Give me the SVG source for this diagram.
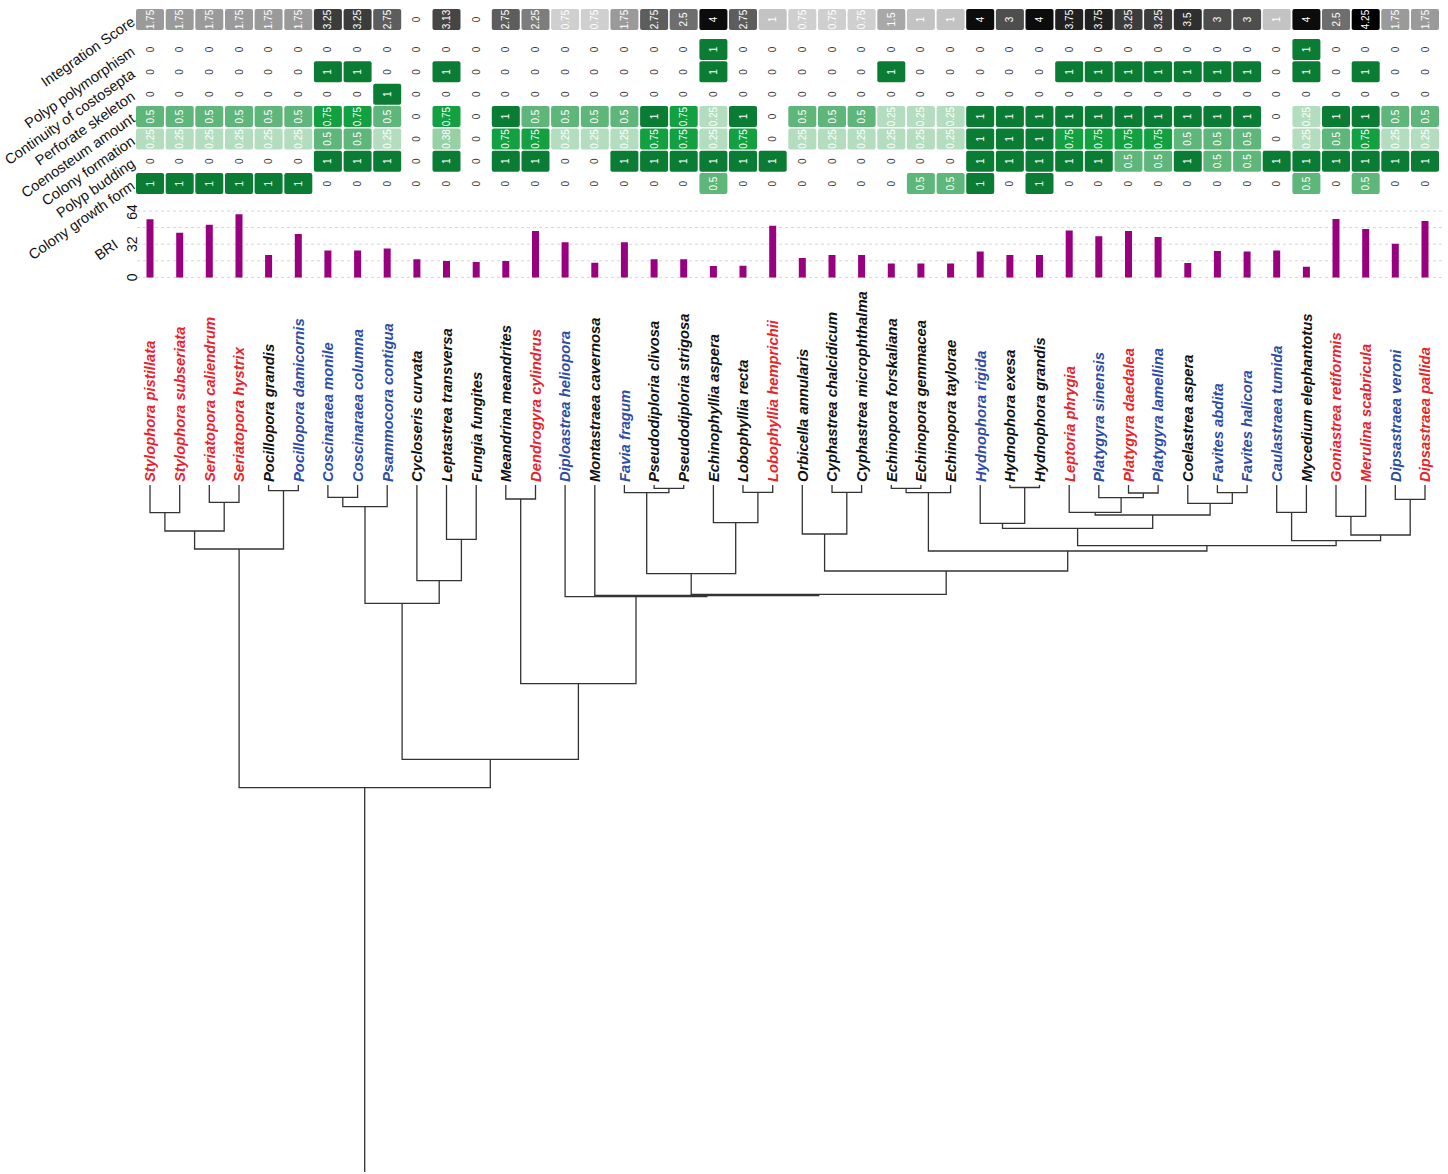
<svg xmlns="http://www.w3.org/2000/svg" xmlns:xlink="http://www.w3.org/1999/xlink" width="1448" height="1174" viewBox="0 0 1448 1174">
<style>
.t text{font-family:"Liberation Sans",Arial,sans-serif;font-size:10px;text-anchor:middle;fill:#3a3a3a}
.t text.w{fill:#fff}
.i075{fill:#cfcfcf}.i1{fill:#c3c3c3}.i15{fill:#a8a8a8}.i175{fill:#9a9a9a}.i225{fill:#7d7d7d}.i25{fill:#6e6e6e}.i275{fill:#5d5d5d}.i3{fill:#4e4e4e}.i313{fill:#454545}.i325{fill:#3c3c3c}.i35{fill:#2f2f2f}.i375{fill:#202020}.i4{fill:#0c0c0c}.i425{fill:#000}
.g1{fill:#0a7c34}.g75{fill:#12a040}.g5{fill:#5fb67a}.g38{fill:#98d0a6}.g25{fill:#b4ddbf}
.lab{font-family:"Liberation Sans",Arial,sans-serif;font-size:14.8px;font-weight:bold;font-style:italic}
.r{fill:#e8232b}.b{fill:#2c4ca5}.k{fill:#111}
.rl{font-family:"Liberation Sans",Arial,sans-serif;font-size:14.5px;text-anchor:end;fill:#111}
</style>
<defs>
<rect id="c" x="-14" y="-10.5" width="28" height="21" rx="2"/>
</defs>
<rect width="1448" height="1174" fill="#fff"/>

<g id="row-labels" class="rl">
<text transform="translate(136 24) rotate(-35)">Integration Score</text>
<text transform="translate(136 54) rotate(-35)">Polyp polymorphism</text>
<text transform="translate(136 76.4) rotate(-35)">Continuity of costosepta</text>
<text transform="translate(136 98.7) rotate(-35)">Perforate skeleton</text>
<text transform="translate(136 121) rotate(-35)">Coenosteum amount</text>
<text transform="translate(136 143.4) rotate(-35)">Colony formation</text>
<text transform="translate(136 165.8) rotate(-35)">Polyp budding</text>
<text transform="translate(136 188.1) rotate(-35)">Colony growth form</text>
<text transform="translate(119 247) rotate(-35)">BRI</text>
</g>

<g id="heatmap-cells">
<g id="cells-integration">
<use href="#c" x="150" y="19.5" class="i175"/><use href="#c" x="179.7" y="19.5" class="i175"/><use href="#c" x="209.3" y="19.5" class="i175"/><use href="#c" x="239" y="19.5" class="i175"/><use href="#c" x="268.6" y="19.5" class="i175"/><use href="#c" x="298.3" y="19.5" class="i175"/><use href="#c" x="327.9" y="19.5" class="i325"/><use href="#c" x="357.6" y="19.5" class="i325"/><use href="#c" x="387.2" y="19.5" class="i275"/><use href="#c" x="446.5" y="19.5" class="i313"/><use href="#c" x="505.8" y="19.5" class="i275"/><use href="#c" x="535.5" y="19.5" class="i225"/><use href="#c" x="565.1" y="19.5" class="i075"/><use href="#c" x="594.8" y="19.5" class="i075"/><use href="#c" x="624.4" y="19.5" class="i175"/><use href="#c" x="654.1" y="19.5" class="i275"/><use href="#c" x="683.7" y="19.5" class="i25"/><use href="#c" x="713.4" y="19.5" class="i4"/><use href="#c" x="743" y="19.5" class="i275"/><use href="#c" x="772.7" y="19.5" class="i1"/><use href="#c" x="802.3" y="19.5" class="i075"/><use href="#c" x="832" y="19.5" class="i075"/><use href="#c" x="861.6" y="19.5" class="i075"/><use href="#c" x="891.3" y="19.5" class="i15"/><use href="#c" x="920.9" y="19.5" class="i1"/><use href="#c" x="950.6" y="19.5" class="i1"/><use href="#c" x="980.2" y="19.5" class="i4"/><use href="#c" x="1009.9" y="19.5" class="i3"/><use href="#c" x="1039.5" y="19.5" class="i4"/><use href="#c" x="1069.2" y="19.5" class="i375"/><use href="#c" x="1098.8" y="19.5" class="i375"/><use href="#c" x="1128.5" y="19.5" class="i325"/><use href="#c" x="1158.1" y="19.5" class="i325"/><use href="#c" x="1187.8" y="19.5" class="i35"/><use href="#c" x="1217.4" y="19.5" class="i3"/><use href="#c" x="1247.1" y="19.5" class="i3"/><use href="#c" x="1276.7" y="19.5" class="i1"/><use href="#c" x="1306.4" y="19.5" class="i4"/><use href="#c" x="1336" y="19.5" class="i25"/><use href="#c" x="1365.7" y="19.5" class="i425"/><use href="#c" x="1395.3" y="19.5" class="i175"/><use href="#c" x="1425" y="19.5" class="i175"/>
</g>
<g id="cells-polymorphism">
<use href="#c" x="713.4" y="49.5" class="g1"/><use href="#c" x="1306.4" y="49.5" class="g1"/>
</g>
<g id="cells-costosepta">
<use href="#c" x="327.9" y="71.85" class="g1"/><use href="#c" x="357.6" y="71.85" class="g1"/><use href="#c" x="446.5" y="71.85" class="g1"/><use href="#c" x="713.4" y="71.85" class="g1"/><use href="#c" x="891.3" y="71.85" class="g1"/><use href="#c" x="1069.2" y="71.85" class="g1"/><use href="#c" x="1098.8" y="71.85" class="g1"/><use href="#c" x="1128.5" y="71.85" class="g1"/><use href="#c" x="1158.1" y="71.85" class="g1"/><use href="#c" x="1187.8" y="71.85" class="g1"/><use href="#c" x="1217.4" y="71.85" class="g1"/><use href="#c" x="1247.1" y="71.85" class="g1"/><use href="#c" x="1306.4" y="71.85" class="g1"/><use href="#c" x="1365.7" y="71.85" class="g1"/>
</g>
<g id="cells-perforate">
<use href="#c" x="387.2" y="94.2" class="g1"/>
</g>
<g id="cells-coenosteum">
<use href="#c" x="150" y="116.55" class="g5"/><use href="#c" x="179.7" y="116.55" class="g5"/><use href="#c" x="209.3" y="116.55" class="g5"/><use href="#c" x="239" y="116.55" class="g5"/><use href="#c" x="268.6" y="116.55" class="g5"/><use href="#c" x="298.3" y="116.55" class="g5"/><use href="#c" x="327.9" y="116.55" class="g75"/><use href="#c" x="357.6" y="116.55" class="g75"/><use href="#c" x="387.2" y="116.55" class="g5"/><use href="#c" x="446.5" y="116.55" class="g75"/><use href="#c" x="505.8" y="116.55" class="g1"/><use href="#c" x="535.5" y="116.55" class="g5"/><use href="#c" x="565.1" y="116.55" class="g5"/><use href="#c" x="594.8" y="116.55" class="g5"/><use href="#c" x="624.4" y="116.55" class="g5"/><use href="#c" x="654.1" y="116.55" class="g1"/><use href="#c" x="683.7" y="116.55" class="g75"/><use href="#c" x="713.4" y="116.55" class="g25"/><use href="#c" x="743" y="116.55" class="g1"/><use href="#c" x="802.3" y="116.55" class="g5"/><use href="#c" x="832" y="116.55" class="g5"/><use href="#c" x="861.6" y="116.55" class="g5"/><use href="#c" x="891.3" y="116.55" class="g25"/><use href="#c" x="920.9" y="116.55" class="g25"/><use href="#c" x="950.6" y="116.55" class="g25"/><use href="#c" x="980.2" y="116.55" class="g1"/><use href="#c" x="1009.9" y="116.55" class="g1"/><use href="#c" x="1039.5" y="116.55" class="g1"/><use href="#c" x="1069.2" y="116.55" class="g1"/><use href="#c" x="1098.8" y="116.55" class="g1"/><use href="#c" x="1128.5" y="116.55" class="g1"/><use href="#c" x="1158.1" y="116.55" class="g1"/><use href="#c" x="1187.8" y="116.55" class="g1"/><use href="#c" x="1217.4" y="116.55" class="g1"/><use href="#c" x="1247.1" y="116.55" class="g1"/><use href="#c" x="1306.4" y="116.55" class="g25"/><use href="#c" x="1336" y="116.55" class="g1"/><use href="#c" x="1365.7" y="116.55" class="g1"/><use href="#c" x="1395.3" y="116.55" class="g5"/><use href="#c" x="1425" y="116.55" class="g5"/>
</g>
<g id="cells-colony-formation">
<use href="#c" x="150" y="138.9" class="g25"/><use href="#c" x="179.7" y="138.9" class="g25"/><use href="#c" x="209.3" y="138.9" class="g25"/><use href="#c" x="239" y="138.9" class="g25"/><use href="#c" x="268.6" y="138.9" class="g25"/><use href="#c" x="298.3" y="138.9" class="g25"/><use href="#c" x="327.9" y="138.9" class="g5"/><use href="#c" x="357.6" y="138.9" class="g5"/><use href="#c" x="387.2" y="138.9" class="g25"/><use href="#c" x="446.5" y="138.9" class="g38"/><use href="#c" x="505.8" y="138.9" class="g75"/><use href="#c" x="535.5" y="138.9" class="g75"/><use href="#c" x="565.1" y="138.9" class="g25"/><use href="#c" x="594.8" y="138.9" class="g25"/><use href="#c" x="624.4" y="138.9" class="g25"/><use href="#c" x="654.1" y="138.9" class="g75"/><use href="#c" x="683.7" y="138.9" class="g75"/><use href="#c" x="713.4" y="138.9" class="g25"/><use href="#c" x="743" y="138.9" class="g75"/><use href="#c" x="802.3" y="138.9" class="g25"/><use href="#c" x="832" y="138.9" class="g25"/><use href="#c" x="861.6" y="138.9" class="g25"/><use href="#c" x="891.3" y="138.9" class="g25"/><use href="#c" x="920.9" y="138.9" class="g25"/><use href="#c" x="950.6" y="138.9" class="g25"/><use href="#c" x="980.2" y="138.9" class="g1"/><use href="#c" x="1009.9" y="138.9" class="g1"/><use href="#c" x="1039.5" y="138.9" class="g1"/><use href="#c" x="1069.2" y="138.9" class="g75"/><use href="#c" x="1098.8" y="138.9" class="g75"/><use href="#c" x="1128.5" y="138.9" class="g75"/><use href="#c" x="1158.1" y="138.9" class="g75"/><use href="#c" x="1187.8" y="138.9" class="g5"/><use href="#c" x="1217.4" y="138.9" class="g5"/><use href="#c" x="1247.1" y="138.9" class="g5"/><use href="#c" x="1306.4" y="138.9" class="g25"/><use href="#c" x="1336" y="138.9" class="g5"/><use href="#c" x="1365.7" y="138.9" class="g75"/><use href="#c" x="1395.3" y="138.9" class="g25"/><use href="#c" x="1425" y="138.9" class="g25"/>
</g>
<g id="cells-budding">
<use href="#c" x="327.9" y="161.25" class="g1"/><use href="#c" x="357.6" y="161.25" class="g1"/><use href="#c" x="387.2" y="161.25" class="g1"/><use href="#c" x="446.5" y="161.25" class="g1"/><use href="#c" x="505.8" y="161.25" class="g1"/><use href="#c" x="535.5" y="161.25" class="g1"/><use href="#c" x="624.4" y="161.25" class="g1"/><use href="#c" x="654.1" y="161.25" class="g1"/><use href="#c" x="683.7" y="161.25" class="g1"/><use href="#c" x="713.4" y="161.25" class="g1"/><use href="#c" x="743" y="161.25" class="g1"/><use href="#c" x="772.7" y="161.25" class="g1"/><use href="#c" x="980.2" y="161.25" class="g1"/><use href="#c" x="1009.9" y="161.25" class="g1"/><use href="#c" x="1039.5" y="161.25" class="g1"/><use href="#c" x="1069.2" y="161.25" class="g1"/><use href="#c" x="1098.8" y="161.25" class="g1"/><use href="#c" x="1128.5" y="161.25" class="g5"/><use href="#c" x="1158.1" y="161.25" class="g5"/><use href="#c" x="1187.8" y="161.25" class="g1"/><use href="#c" x="1217.4" y="161.25" class="g5"/><use href="#c" x="1247.1" y="161.25" class="g5"/><use href="#c" x="1276.7" y="161.25" class="g1"/><use href="#c" x="1306.4" y="161.25" class="g1"/><use href="#c" x="1336" y="161.25" class="g1"/><use href="#c" x="1365.7" y="161.25" class="g1"/><use href="#c" x="1395.3" y="161.25" class="g1"/><use href="#c" x="1425" y="161.25" class="g1"/>
</g>
<g id="cells-growth-form">
<use href="#c" x="150" y="183.6" class="g1"/><use href="#c" x="179.7" y="183.6" class="g1"/><use href="#c" x="209.3" y="183.6" class="g1"/><use href="#c" x="239" y="183.6" class="g1"/><use href="#c" x="268.6" y="183.6" class="g1"/><use href="#c" x="298.3" y="183.6" class="g1"/><use href="#c" x="713.4" y="183.6" class="g5"/><use href="#c" x="920.9" y="183.6" class="g5"/><use href="#c" x="950.6" y="183.6" class="g5"/><use href="#c" x="980.2" y="183.6" class="g1"/><use href="#c" x="1039.5" y="183.6" class="g1"/><use href="#c" x="1306.4" y="183.6" class="g5"/><use href="#c" x="1365.7" y="183.6" class="g5"/>
</g>
</g>

<g id="heatmap-values" class="t">
<g transform="translate(0 19.5) rotate(-90)">
<text class="w" y="153.5">1.75</text><text class="w" y="183.2">1.75</text><text class="w" y="212.8">1.75</text><text class="w" y="242.5">1.75</text><text class="w" y="272.1">1.75</text><text class="w" y="301.8">1.75</text><text class="w" y="331.4">3.25</text><text class="w" y="361.1">3.25</text><text class="w" y="390.7">2.75</text><text y="420.4">0</text><text class="w" y="450">3.13</text><text y="479.7">0</text><text class="w" y="509.3">2.75</text><text class="w" y="539">2.25</text><text class="w" y="568.6">0.75</text><text class="w" y="598.3">0.75</text><text class="w" y="627.9">1.75</text><text class="w" y="657.6">2.75</text><text class="w" y="687.2">2.5</text><text class="w" y="716.9">4</text><text class="w" y="746.5">2.75</text><text class="w" y="776.2">1</text><text class="w" y="805.8">0.75</text><text class="w" y="835.5">0.75</text><text class="w" y="865.1">0.75</text><text class="w" y="894.8">1.5</text><text class="w" y="924.4">1</text><text class="w" y="954.1">1</text><text class="w" y="983.7">4</text><text class="w" y="1013.4">3</text><text class="w" y="1043">4</text><text class="w" y="1072.7">3.75</text><text class="w" y="1102.3">3.75</text><text class="w" y="1132">3.25</text><text class="w" y="1161.6">3.25</text><text class="w" y="1191.3">3.5</text><text class="w" y="1220.9">3</text><text class="w" y="1250.6">3</text><text class="w" y="1280.2">1</text><text class="w" y="1309.9">4</text><text class="w" y="1339.5">2.5</text><text class="w" y="1369.2">4.25</text><text class="w" y="1398.8">1.75</text><text class="w" y="1428.5">1.75</text>
</g>
<g transform="translate(0 49.5) rotate(-90)">
<text y="153.5">0</text><text y="183.2">0</text><text y="212.8">0</text><text y="242.5">0</text><text y="272.1">0</text><text y="301.8">0</text><text y="331.4">0</text><text y="361.1">0</text><text y="390.7">0</text><text y="420.4">0</text><text y="450">0</text><text y="479.7">0</text><text y="509.3">0</text><text y="539">0</text><text y="568.6">0</text><text y="598.3">0</text><text y="627.9">0</text><text y="657.6">0</text><text y="687.2">0</text><text class="w" y="716.9">1</text><text y="746.5">0</text><text y="776.2">0</text><text y="805.8">0</text><text y="835.5">0</text><text y="865.1">0</text><text y="894.8">0</text><text y="924.4">0</text><text y="954.1">0</text><text y="983.7">0</text><text y="1013.4">0</text><text y="1043">0</text><text y="1072.7">0</text><text y="1102.3">0</text><text y="1132">0</text><text y="1161.6">0</text><text y="1191.3">0</text><text y="1220.9">0</text><text y="1250.6">0</text><text y="1280.2">0</text><text class="w" y="1309.9">1</text><text y="1339.5">0</text><text y="1369.2">0</text><text y="1398.8">0</text><text y="1428.5">0</text>
</g>
<g transform="translate(0 71.85) rotate(-90)">
<text y="153.5">0</text><text y="183.2">0</text><text y="212.8">0</text><text y="242.5">0</text><text y="272.1">0</text><text y="301.8">0</text><text class="w" y="331.4">1</text><text class="w" y="361.1">1</text><text y="390.7">0</text><text y="420.4">0</text><text class="w" y="450">1</text><text y="479.7">0</text><text y="509.3">0</text><text y="539">0</text><text y="568.6">0</text><text y="598.3">0</text><text y="627.9">0</text><text y="657.6">0</text><text y="687.2">0</text><text class="w" y="716.9">1</text><text y="746.5">0</text><text y="776.2">0</text><text y="805.8">0</text><text y="835.5">0</text><text y="865.1">0</text><text class="w" y="894.8">1</text><text y="924.4">0</text><text y="954.1">0</text><text y="983.7">0</text><text y="1013.4">0</text><text y="1043">0</text><text class="w" y="1072.7">1</text><text class="w" y="1102.3">1</text><text class="w" y="1132">1</text><text class="w" y="1161.6">1</text><text class="w" y="1191.3">1</text><text class="w" y="1220.9">1</text><text class="w" y="1250.6">1</text><text y="1280.2">0</text><text class="w" y="1309.9">1</text><text y="1339.5">0</text><text class="w" y="1369.2">1</text><text y="1398.8">0</text><text y="1428.5">0</text>
</g>
<g transform="translate(0 94.2) rotate(-90)">
<text y="153.5">0</text><text y="183.2">0</text><text y="212.8">0</text><text y="242.5">0</text><text y="272.1">0</text><text y="301.8">0</text><text y="331.4">0</text><text y="361.1">0</text><text class="w" y="390.7">1</text><text y="420.4">0</text><text y="450">0</text><text y="479.7">0</text><text y="509.3">0</text><text y="539">0</text><text y="568.6">0</text><text y="598.3">0</text><text y="627.9">0</text><text y="657.6">0</text><text y="687.2">0</text><text y="716.9">0</text><text y="746.5">0</text><text y="776.2">0</text><text y="805.8">0</text><text y="835.5">0</text><text y="865.1">0</text><text y="894.8">0</text><text y="924.4">0</text><text y="954.1">0</text><text y="983.7">0</text><text y="1013.4">0</text><text y="1043">0</text><text y="1072.7">0</text><text y="1102.3">0</text><text y="1132">0</text><text y="1161.6">0</text><text y="1191.3">0</text><text y="1220.9">0</text><text y="1250.6">0</text><text y="1280.2">0</text><text y="1309.9">0</text><text y="1339.5">0</text><text y="1369.2">0</text><text y="1398.8">0</text><text y="1428.5">0</text>
</g>
<g transform="translate(0 116.55) rotate(-90)">
<text class="w" y="153.5">0.5</text><text class="w" y="183.2">0.5</text><text class="w" y="212.8">0.5</text><text class="w" y="242.5">0.5</text><text class="w" y="272.1">0.5</text><text class="w" y="301.8">0.5</text><text class="w" y="331.4">0.75</text><text class="w" y="361.1">0.75</text><text class="w" y="390.7">0.5</text><text y="420.4">0</text><text class="w" y="450">0.75</text><text y="479.7">0</text><text class="w" y="509.3">1</text><text class="w" y="539">0.5</text><text class="w" y="568.6">0.5</text><text class="w" y="598.3">0.5</text><text class="w" y="627.9">0.5</text><text class="w" y="657.6">1</text><text class="w" y="687.2">0.75</text><text class="w" y="716.9">0.25</text><text class="w" y="746.5">1</text><text y="776.2">0</text><text class="w" y="805.8">0.5</text><text class="w" y="835.5">0.5</text><text class="w" y="865.1">0.5</text><text class="w" y="894.8">0.25</text><text class="w" y="924.4">0.25</text><text class="w" y="954.1">0.25</text><text class="w" y="983.7">1</text><text class="w" y="1013.4">1</text><text class="w" y="1043">1</text><text class="w" y="1072.7">1</text><text class="w" y="1102.3">1</text><text class="w" y="1132">1</text><text class="w" y="1161.6">1</text><text class="w" y="1191.3">1</text><text class="w" y="1220.9">1</text><text class="w" y="1250.6">1</text><text y="1280.2">0</text><text class="w" y="1309.9">0.25</text><text class="w" y="1339.5">1</text><text class="w" y="1369.2">1</text><text class="w" y="1398.8">0.5</text><text class="w" y="1428.5">0.5</text>
</g>
<g transform="translate(0 138.9) rotate(-90)">
<text class="w" y="153.5">0.25</text><text class="w" y="183.2">0.25</text><text class="w" y="212.8">0.25</text><text class="w" y="242.5">0.25</text><text class="w" y="272.1">0.25</text><text class="w" y="301.8">0.25</text><text class="w" y="331.4">0.5</text><text class="w" y="361.1">0.5</text><text class="w" y="390.7">0.25</text><text y="420.4">0</text><text class="w" y="450">0.38</text><text y="479.7">0</text><text class="w" y="509.3">0.75</text><text class="w" y="539">0.75</text><text class="w" y="568.6">0.25</text><text class="w" y="598.3">0.25</text><text class="w" y="627.9">0.25</text><text class="w" y="657.6">0.75</text><text class="w" y="687.2">0.75</text><text class="w" y="716.9">0.25</text><text class="w" y="746.5">0.75</text><text y="776.2">0</text><text class="w" y="805.8">0.25</text><text class="w" y="835.5">0.25</text><text class="w" y="865.1">0.25</text><text class="w" y="894.8">0.25</text><text class="w" y="924.4">0.25</text><text class="w" y="954.1">0.25</text><text class="w" y="983.7">1</text><text class="w" y="1013.4">1</text><text class="w" y="1043">1</text><text class="w" y="1072.7">0.75</text><text class="w" y="1102.3">0.75</text><text class="w" y="1132">0.75</text><text class="w" y="1161.6">0.75</text><text class="w" y="1191.3">0.5</text><text class="w" y="1220.9">0.5</text><text class="w" y="1250.6">0.5</text><text y="1280.2">0</text><text class="w" y="1309.9">0.25</text><text class="w" y="1339.5">0.5</text><text class="w" y="1369.2">0.75</text><text class="w" y="1398.8">0.25</text><text class="w" y="1428.5">0.25</text>
</g>
<g transform="translate(0 161.25) rotate(-90)">
<text y="153.5">0</text><text y="183.2">0</text><text y="212.8">0</text><text y="242.5">0</text><text y="272.1">0</text><text y="301.8">0</text><text class="w" y="331.4">1</text><text class="w" y="361.1">1</text><text class="w" y="390.7">1</text><text y="420.4">0</text><text class="w" y="450">1</text><text y="479.7">0</text><text class="w" y="509.3">1</text><text class="w" y="539">1</text><text y="568.6">0</text><text y="598.3">0</text><text class="w" y="627.9">1</text><text class="w" y="657.6">1</text><text class="w" y="687.2">1</text><text class="w" y="716.9">1</text><text class="w" y="746.5">1</text><text class="w" y="776.2">1</text><text y="805.8">0</text><text y="835.5">0</text><text y="865.1">0</text><text y="894.8">0</text><text y="924.4">0</text><text y="954.1">0</text><text class="w" y="983.7">1</text><text class="w" y="1013.4">1</text><text class="w" y="1043">1</text><text class="w" y="1072.7">1</text><text class="w" y="1102.3">1</text><text class="w" y="1132">0.5</text><text class="w" y="1161.6">0.5</text><text class="w" y="1191.3">1</text><text class="w" y="1220.9">0.5</text><text class="w" y="1250.6">0.5</text><text class="w" y="1280.2">1</text><text class="w" y="1309.9">1</text><text class="w" y="1339.5">1</text><text class="w" y="1369.2">1</text><text class="w" y="1398.8">1</text><text class="w" y="1428.5">1</text>
</g>
<g transform="translate(0 183.6) rotate(-90)">
<text class="w" y="153.5">1</text><text class="w" y="183.2">1</text><text class="w" y="212.8">1</text><text class="w" y="242.5">1</text><text class="w" y="272.1">1</text><text class="w" y="301.8">1</text><text y="331.4">0</text><text y="361.1">0</text><text y="390.7">0</text><text y="420.4">0</text><text y="450">0</text><text y="479.7">0</text><text y="509.3">0</text><text y="539">0</text><text y="568.6">0</text><text y="598.3">0</text><text y="627.9">0</text><text y="657.6">0</text><text y="687.2">0</text><text class="w" y="716.9">0.5</text><text y="746.5">0</text><text y="776.2">0</text><text y="805.8">0</text><text y="835.5">0</text><text y="865.1">0</text><text y="894.8">0</text><text class="w" y="924.4">0.5</text><text class="w" y="954.1">0.5</text><text class="w" y="983.7">1</text><text y="1013.4">0</text><text class="w" y="1043">1</text><text y="1072.7">0</text><text y="1102.3">0</text><text y="1132">0</text><text y="1161.6">0</text><text y="1191.3">0</text><text y="1220.9">0</text><text y="1250.6">0</text><text y="1280.2">0</text><text class="w" y="1309.9">0.5</text><text y="1339.5">0</text><text class="w" y="1369.2">0.5</text><text y="1398.8">0</text><text y="1428.5">0</text>
</g>
</g>

<g id="bri-chart">
<g stroke="#d6d6d6" stroke-width="1" stroke-dasharray="3 3">
<line x1="137" y1="211" x2="1443" y2="211"/>
<line x1="137" y1="227.6" x2="1443" y2="227.6"/>
<line x1="137" y1="244.2" x2="1443" y2="244.2"/>
<line x1="137" y1="260.8" x2="1443" y2="260.8"/>
<line x1="137" y1="277.4" x2="1443" y2="277.4"/>
</g>
<g font-family="Liberation Sans, Arial, sans-serif" font-size="14" text-anchor="middle" fill="#111">
<text transform="translate(137 212) rotate(-90)">64</text>
<text transform="translate(137 244.2) rotate(-90)">32</text>
<text transform="translate(137 277.4) rotate(-90)">0</text>
</g>
<path fill="none" stroke="#990080" stroke-width="7" d="M150 277.4V219.3M179.7 277.4V232.7M209.3 277.4V224.7M239 277.4V214.3M268.6 277.4V255.1M298.3 277.4V234M327.9 277.4V250.4M357.6 277.4V250.4M387.2 277.4V248.4M416.9 277.4V259.3M446.5 277.4V261M476.2 277.4V262M505.8 277.4V261M535.5 277.4V231M565.1 277.4V242.3M594.8 277.4V262.7M624.4 277.4V242.3M654.1 277.4V259.3M683.7 277.4V259.3M713.4 277.4V266.1M743 277.4V265.7M772.7 277.4V225.7M802.3 277.4V258M832 277.4V255.1M861.6 277.4V255.1M891.3 277.4V263.4M920.9 277.4V263.4M950.6 277.4V263.4M980.2 277.4V251.5M1009.9 277.4V255.1M1039.5 277.4V255.1M1069.2 277.4V230.4M1098.8 277.4V236.3M1128.5 277.4V231M1158.1 277.4V237M1187.8 277.4V263.1M1217.4 277.4V251M1247.1 277.4V251.5M1276.7 277.4V250.4M1306.4 277.4V266.7M1336 277.4V219M1365.7 277.4V229.1M1395.3 277.4V243.7M1425 277.4V221"/>
</g>

<g id="species" class="lab" transform="translate(0 482) rotate(-90)">
<g id="sp01"><text class="r" y="155.3">Stylophora pistillata</text></g>
<g id="sp02"><text class="r" y="185">Stylophora subseriata</text></g>
<g id="sp03"><text class="r" y="214.6">Seriatopora caliendrum</text></g>
<g id="sp04"><text class="r" y="244.3">Seriatopora hystrix</text></g>
<g id="sp05"><text class="k" y="273.9">Pocillopora grandis</text></g>
<g id="sp06"><text class="b" y="303.6">Pocillopora damicornis</text></g>
<g id="sp07"><text class="b" y="333.2">Coscinaraea monile</text></g>
<g id="sp08"><text class="b" y="362.9">Coscinaraea columna</text></g>
<g id="sp09"><text class="b" y="392.5">Psammocora contigua</text></g>
<g id="sp10"><text class="k" y="422.2">Cycloseris curvata</text></g>
<g id="sp11"><text class="k" y="451.8">Leptastrea transversa</text></g>
<g id="sp12"><text class="k" y="481.5">Fungia fungites</text></g>
<g id="sp13"><text class="k" y="511.1">Meandrina meandrites</text></g>
<g id="sp14"><text class="r" y="540.8">Dendrogyra cylindrus</text></g>
<g id="sp15"><text class="b" y="570.4">Diploastrea heliopora</text></g>
<g id="sp16"><text class="k" y="600.1">Montastraea cavernosa</text></g>
<g id="sp17"><text class="b" y="629.7">Favia fragum</text></g>
<g id="sp18"><text class="k" y="659.4">Pseudodiploria clivosa</text></g>
<g id="sp19"><text class="k" y="689">Pseudodiploria strigosa</text></g>
<g id="sp20"><text class="k" y="718.7">Echinophyllia aspera</text></g>
<g id="sp21"><text class="k" y="748.3">Lobophyllia recta</text></g>
<g id="sp22"><text class="r" y="778">Lobophyllia hemprichii</text></g>
<g id="sp23"><text class="k" y="807.6">Orbicella annularis</text></g>
<g id="sp24"><text class="k" y="837.3">Cyphastrea chalcidicum</text></g>
<g id="sp25"><text class="k" y="866.9">Cyphastrea microphthalma</text></g>
<g id="sp26"><text class="k" y="896.6">Echinopora forskaliana</text></g>
<g id="sp27"><text class="k" y="926.2">Echinopora gemmacea</text></g>
<g id="sp28"><text class="k" y="955.9">Echinopora taylorae</text></g>
<g id="sp29"><text class="b" y="985.5">Hydnophora rigida</text></g>
<g id="sp30"><text class="k" y="1015.2">Hydnophora exesa</text></g>
<g id="sp31"><text class="k" y="1044.8">Hydnophora grandis</text></g>
<g id="sp32"><text class="r" y="1074.5">Leptoria phrygia</text></g>
<g id="sp33"><text class="b" y="1104.1">Platygyra sinensis</text></g>
<g id="sp34"><text class="r" y="1133.8">Platygyra daedalea</text></g>
<g id="sp35"><text class="b" y="1163.4">Platygyra lamellina</text></g>
<g id="sp36"><text class="k" y="1193.1">Coelastrea aspera</text></g>
<g id="sp37"><text class="b" y="1222.7">Favites abdita</text></g>
<g id="sp38"><text class="b" y="1252.4">Favites halicora</text></g>
<g id="sp39"><text class="b" y="1282">Caulastraea tumida</text></g>
<g id="sp40"><text class="k" y="1311.7">Mycedium elephantotus</text></g>
<g id="sp41"><text class="r" y="1341.3">Goniastrea retiformis</text></g>
<g id="sp42"><text class="r" y="1371">Merulina scabricula</text></g>
<g id="sp43"><text class="b" y="1400.6">Dipsastraea veroni</text></g>
<g id="sp44"><text class="r" y="1430.3">Dipsastraea pallida</text></g>
</g>

<g id="connectors" fill="none" stroke="#333" stroke-width="1.3">
<path d="M150 485V512.7H179.7V485"/>
<path d="M209.3 485V502.3H239V485"/>
<path d="M164.9 512.7V531H224.2V502.3"/>
<path d="M268.6 485V490.7H298.3V485"/>
<path d="M194.6 531V549H283.5V490.7"/>
<path d="M327.9 485V497.3H357.6V485"/>
<path d="M342.8 497.3V506.7H387.2V485"/>
<path d="M446.5 485V539.3H476.2V485"/>
<path d="M416.9 485V580.7H461.4V539.3"/>
<path d="M365 506.7V603.3H439.2V580.7"/>
<path d="M505.8 485V499H535.5V485"/>
<path d="M654.1 485V488.3H683.7V485"/>
<path d="M624.4 485V492.7H668.9V488.3"/>
<path d="M743 485V492.3H772.7V485"/>
<path d="M713.4 485V522.7H757.9V492.3"/>
<path d="M646.7 492.7V573.7H735.7V522.7"/>
<path d="M832 485V492.3H861.6V485"/>
<path d="M802.3 485V534H846.8V492.3"/>
<path d="M891.3 485V488.3H920.9V485"/>
<path d="M906.1 488.3V492.7H950.6V485"/>
<path d="M1009.9 485V487.5H1039.5V485"/>
<path d="M980.2 485V523.3H1024.7V487.5"/>
<path d="M1128.5 485V493H1158.1V485"/>
<path d="M1098.8 485V497.7H1143.3V493"/>
<path d="M1069.2 485V512.3H1121.1V497.7"/>
<path d="M1217.4 485V492.7H1247.1V485"/>
<path d="M1187.8 485V503.3H1232.3V492.7"/>
<path d="M1095.2 512.3V515H1210.1V503.3"/>
<path d="M1002.5 523.3V528.3H1152.7V515"/>
<path d="M1276.7 485V512.3H1306.4V485"/>
<path d="M1336 485V516.3H1365.7V485"/>
<path d="M1395.3 485V499.3H1425V485"/>
<path d="M1350.9 516.3V535H1410.2V499.3"/>
<path d="M1291.6 512.3V540.7H1380.6V535"/>
<path d="M1077.6 528.3V545.7H1336.1V540.7"/>
<path d="M928.4 492.7V551H1206.9V545.7"/>
<path d="M824.6 534V571H1067.7V551"/>
<path d="M691.2 573.7V594.3H946.2V571"/>
<path d="M594.8 485V595.5H818.7V594.3"/>
<path d="M565.1 485V596.7H706.8V595.5"/>
<path d="M520.7 499V683.7H636V596.7"/>
<path d="M402.1 603.3V759.3H578.4V683.7"/>
<path d="M239.1 549V787.7H490.3V759.3"/>
<path d="M364.7 787.7V1172"/>
</g>
</svg>
